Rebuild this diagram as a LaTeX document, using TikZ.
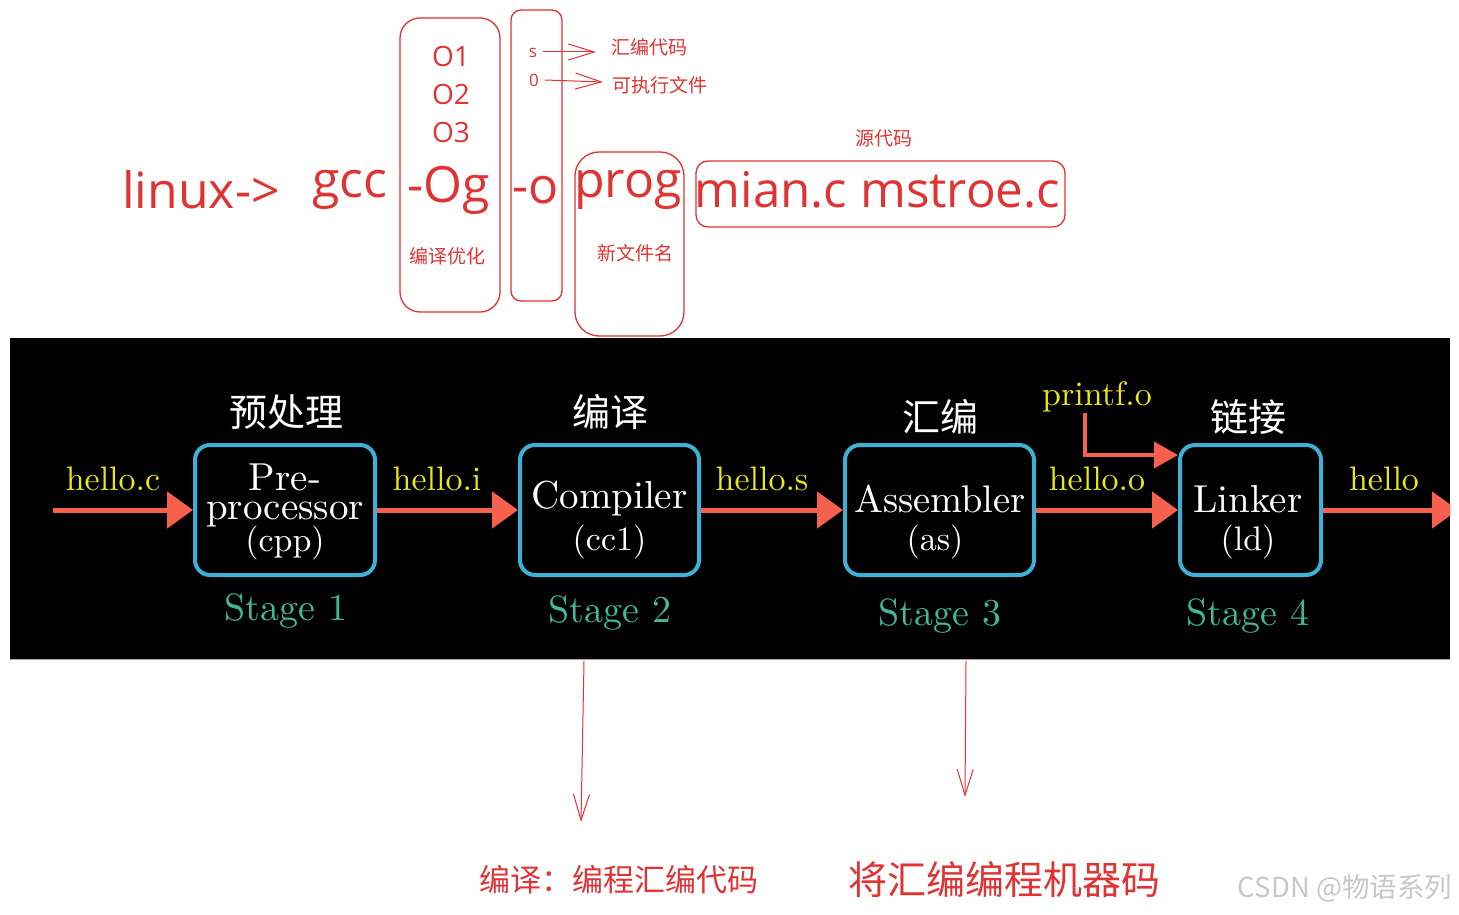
\documentclass[tikz,border=0pt]{standalone}
\usepackage{fontspec}
\usetikzlibrary{arrows.meta}
\newfontfamily\cjk{Noto Sans CJK SC}
\newfontfamily\hand{Open Sans}
\newfontfamily\cmr{lmroman10-regular}[Extension=.otf]
\definecolor{pen}{RGB}{224,52,52}
\definecolor{boxc}{RGB}{62,176,214}
\definecolor{flow}{RGB}{246,96,76}
\definecolor{lbl}{RGB}{236,230,20}
\definecolor{stg}{RGB}{66,184,152}
\definecolor{wm}{RGB}{200,200,200}
\tikzset{
  handbox/.style={draw=pen, line width=1.3pt},
  bigred/.style={text=pen, font=\hand\fontsize{50}{56}\selectfont, inner sep=0pt},
  ocode/.style={text=pen, font=\hand\fontsize{28}{30}\selectfont, inner sep=0pt},
  smallcjk/.style={text=pen, font=\cjk\fontsize{19}{22}\selectfont, inner sep=0pt},
  penarrow/.style={draw=pen, line width=1pt, -{Straight Barb[length=26pt,width=16pt]}},
  stagebox/.style={draw=boxc, fill=black, line width=4pt, rounded corners=15pt, inner sep=0pt},
  inbox/.style={text=white, inner sep=0pt, anchor=base},
  title/.style={text=white, font=\cjk\fontsize{38}{40}\selectfont, inner sep=0pt},
  fname/.style={text=lbl, font=\cmr\fontsize{34}{36}\selectfont, inner sep=0pt, anchor=base},
  stagelbl/.style={text=stg, font=\cmr\fontsize{38}{40}\selectfont, inner sep=0pt, anchor=base},
  flowarrow/.style={draw=flow, line width=5pt, -{Triangle[length=26pt,width=36pt]}},
  bottomnote/.style={text=pen, inner sep=0pt},
}
\begin{document}
\begin{tikzpicture}[x=1pt,y=-1pt]
\useasboundingbox (0,0) rectangle (1459,915);
\fill[white] (0,0) rectangle (1459,915);

% ---------- top annotated command ----------
\node[bigred] (linux) at (201,190) {linux->};
\node[bigred] (gcc) at (350,190) {gcc};
\node[bigred] (og) at (449,190) {-Og};
\node[bigred] (oo) at (536,190) {-o};
\node[bigred] (prog) at (628,190) {prog};
\node[bigred, font=\hand\fontsize{49.3}{56}\selectfont] (src) at (877.5,190) {mian.c mstroe.c};

\draw[handbox, rounded corners=20pt] (400,18) rectangle (500,312);
\draw[handbox, rounded corners=10pt] (511,10) rectangle (562,301);
\draw[handbox, rounded corners=24pt] (575,152) rectangle (684,336);
\draw[handbox, rounded corners=12pt] (696,161) rectangle (1065,227);

\node[ocode] (o1) at (451,56) {O1};
\node[ocode] (o2) at (451,94) {O2};
\node[ocode] (o3) at (451,132) {O3};
\node[smallcjk] (opt) at (447,256) {编译优化};
\node[smallcjk] (newname) at (635,253) {新文件名};
\node[smallcjk] (srccode) at (884,138) {源代码};

\node[text=pen, font=\hand\fontsize{17}{18}\selectfont, inner sep=0pt] (s) at (533,53) {s};
\node[text=pen, font=\hand\fontsize{17}{18}\selectfont, inner sep=0pt] (zero) at (534,80) {0};
\node[smallcjk] (asmcode) at (649,47) {汇编代码};
\node[smallcjk] (exe) at (660,85) {可执行文件};
\coordinate (sa) at (596,52);
\coordinate (za) at (603,82);
\draw[penarrow] ([xshift=6pt]s.east |- 0,52) -- (sa);
\draw[penarrow] ([xshift=6pt]zero.east |- 0,80) -- (za);

% ---------- black panel ----------
\fill[black] (10,338) rectangle (1450,659);
\draw[gray!70, line width=0.8pt] (10,659.5) -- (1450,659.5);

\node[stagebox, minimum width=180pt, minimum height=130pt] (pre) at (285,510) {};
\node[stagebox, minimum width=179pt, minimum height=130pt] (comp) at (609.5,510) {};
\node[stagebox, minimum width=189pt, minimum height=130pt] (asm) at (939.5,510) {};
\node[stagebox, minimum width=141pt, minimum height=130pt] (link) at (1250.5,510) {};

\node[inbox, font=\cmr\fontsize{39}{39}\selectfont] (preA) at (285,490) {Pre-};
\node[inbox, font=\cmr\fontsize{39}{39}\selectfont] (preB) at (285,519) {processor};
\node[inbox, font=\cmr\fontsize{34}{34}\selectfont] (preC) at (285,551) {(cpp)};
\node[inbox, font=\cmr\fontsize{39}{40}\selectfont] (compA) at (609.5,508) {Compiler};
\node[inbox, font=\cmr\fontsize{34}{34}\selectfont] (compB) at (609.5,550) {(cc1)};
\node[inbox, font=\cmr\fontsize{38.5}{40}\selectfont] (asmA) at (940,512) {Assembler};
\node[inbox, font=\cmr\fontsize{34}{34}\selectfont] (asmB) at (935,550) {(as)};
\node[inbox, font=\cmr\fontsize{39}{40}\selectfont] (linkA) at (1248,512) {Linker};
\node[inbox, font=\cmr\fontsize{34}{34}\selectfont] (linkB) at (1248,550) {(ld)};

\node[title] (t1) at (286,412) {预处理};
\node[title] (t2) at (610,412) {编译};
\node[title] (t3) at (940,417) {汇编};
\node[title] (t4) at (1248,417) {链接};

\node[stagelbl] (s1) at (286,620) {Stage 1};
\node[stagelbl] (s2) at (610,622) {Stage 2};
\node[stagelbl] (s3) at (940,625) {Stage 3};
\node[stagelbl] (s4) at (1248,625) {Stage 4};

\node[fname] (hc) at (113,490) {hello.c};
\node[fname] (hi) at (437,490) {hello.i};
\node[fname] (hs) at (762,490) {hello.s};
\node[fname] (ho) at (1097,490) {hello.o};
\node[fname] (pf) at (1097,405) {printf.o};
\node[fname] (he) at (1384,490) {hello};

\coordinate (in0) at (53,510);
\coordinate (out0) at (1458,510);
\coordinate (pfstart) at (1085,413);
\coordinate (pfend) at (1178,455);
\begin{scope}
\clip (10,338) rectangle (1450,659);
\draw[flowarrow] (in0) -- (pre.west);
\draw[flowarrow] (pre.east) -- (comp.west);
\draw[flowarrow] (comp.east) -- (asm.west);
\draw[flowarrow] (asm.east) -- (link.west);
\draw[flowarrow] (link.east) -- (out0);
\draw[draw=flow, line width=4pt, -{Triangle[length=24pt,width=26pt]}] (pfstart) |- (pfend);
\end{scope}

% ---------- bottom notes ----------
\coordinate (d1a) at (584,661);
\coordinate (d1b) at (581,822);
\coordinate (d2a) at (966,661);
\coordinate (d2b) at (965,797);
\draw[draw=pen, line width=1pt, -{Straight Barb[length=26pt,width=16pt]}] (d1a) -- (d1b);
\draw[draw=pen, line width=1pt, -{Straight Barb[length=26pt,width=16pt]}] (d2a) -- (d2b);

\node[bottomnote, font=\cjk\fontsize{31}{34}\selectfont] (n1) at (619,880) {编译：编程汇编代码};
\node[bottomnote, font=\cjk\fontsize{39}{42}\selectfont] (n2) at (1004,880) {将汇编编程机器码};
\node[text=wm, font=\cjk\fontsize{27.5}{30}\selectfont, inner sep=0pt] (wmk) at (1345,888) {CSDN @物语系列};
\end{tikzpicture}
\end{document}
